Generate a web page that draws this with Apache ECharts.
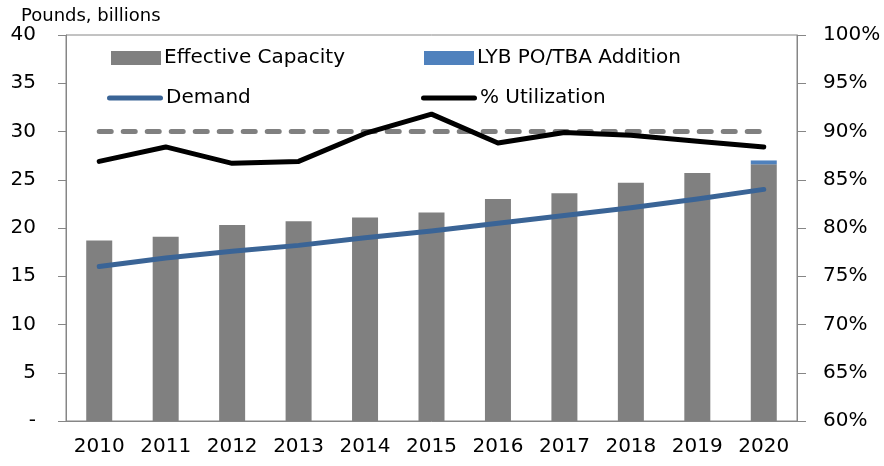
<!DOCTYPE html>
<html>
<head>
<meta charset="utf-8">
<script src="https://cdn.jsdelivr.net/npm/echarts@6/dist/echarts.min.js"></script>
<style>
  html, body { margin: 0; padding: 0; background: #fff; }
  #chart { width: 884px; height: 466px; }
</style>
</head>
<body>
<div id="chart"></div>
<script>
// data
var years = ['2010', '2011', '2012', '2013', '2014', '2015', '2016', '2017', '2018', '2019', '2020'];
var effectiveCapacity = [18.7, 19.1, 20.3, 20.7, 21.1, 21.6, 23.0, 23.6, 24.7, 25.7, 26.6];
var lybAddition = [0, 0, 0, 0, 0, 0, 0, 0, 0, 0, 0.4];
var demand = [16.0, 16.9, 17.6, 18.2, 19.0, 19.7, 20.5, 21.3, 22.1, 23.0, 24.0];
var utilization = [86.9, 88.4, 86.7, 86.9, 89.8, 91.8, 88.8, 89.9, 89.6, 89.0, 88.4];
var targetLine = [90, 90, 90, 90, 90, 90, 90, 90, 90, 90, 90];

var FONT = '"DejaVu Sans", sans-serif';
var AXIS_GRAY = '#868686';
var lineIcon = 'path://M2.5,0 H53.5 A2.5,2.5 0 0 1 53.5,5 H2.5 A2.5,2.5 0 0 1 2.5,0 Z';

var chart = echarts.init(document.getElementById('chart'));

function legendAt(name, left, top, icon, w, h) {
    return {
        data: [name],
        left: left,
        top: top,
        icon: icon,
        itemWidth: w,
        itemHeight: h,
        itemGap: 0,
        padding: 0,
        selectedMode: false,
        textStyle: { fontFamily: FONT, fontSize: 20, color: '#000', padding: [0, 0, 0, -2] }
    };
}

var option = {
    animation: false,
    backgroundColor: '#fff',
    title: {
        text: 'Pounds, billions',
        left: 21,
        top: 7,
        padding: 0,
        textStyle: { fontFamily: FONT, fontSize: 18, fontWeight: 'normal', color: '#000' }
    },
    legend: [
        legendAt('Effective Capacity', 111, 48, 'rect', 50, 14),
        legendAt('LYB PO/TBA Addition', 424, 48, 'rect', 50, 14),
        legendAt('Demand', 107, 88, lineIcon, 56, 5),
        legendAt('% Utilization', 421, 88, lineIcon, 56, 5)
    ],
    grid: {
        left: 66, right: 87, top: 35, bottom: 45,
        show: true, borderColor: AXIS_GRAY, borderWidth: 1
    },
    xAxis: {
        type: 'category',
        data: years,
        axisLine: { lineStyle: { color: AXIS_GRAY, width: 1 } },
        axisTick: { length: 8, lineStyle: { color: AXIS_GRAY } },
        axisLabel: { fontFamily: FONT, fontSize: 20, color: '#000', margin: 16 }
    },
    yAxis: [
        {
            type: 'value', min: 0, max: 40, interval: 5,
            axisLine: { show: true, lineStyle: { color: AXIS_GRAY } },
            axisTick: { show: true, length: 8, lineStyle: { color: AXIS_GRAY } },
            splitLine: { show: false },
            axisLabel: {
                fontFamily: FONT, fontSize: 20, color: '#000', margin: 30,
                formatter: function (v) { return v === 0 ? '-' : String(v); }
            }
        },
        {
            type: 'value', min: 60, max: 100, interval: 5, position: 'right',
            axisLine: { show: true, lineStyle: { color: AXIS_GRAY } },
            axisTick: { show: true, length: 9, lineStyle: { color: AXIS_GRAY } },
            splitLine: { show: false },
            axisLabel: { fontFamily: FONT, fontSize: 20, color: '#000', margin: 26, align: 'left', formatter: '{value}%' }
        }
    ],
    series: [
        {
            name: 'Effective Capacity', type: 'bar', stack: 'cap', barWidth: 26,
            data: effectiveCapacity, itemStyle: { color: '#808080' }, z: 2
        },
        {
            name: 'LYB PO/TBA Addition', type: 'bar', stack: 'cap', barWidth: 26,
            data: lybAddition, itemStyle: { color: '#4F81BD' }, z: 2
        },
        {
            name: 'Demand', type: 'line', data: demand, symbol: 'none',
            itemStyle: { color: '#3A6496' },
            lineStyle: { color: '#3A6496', width: 5, cap: 'round', join: 'round' }, z: 4
        },
        {
            name: '90% line', type: 'line', yAxisIndex: 1, data: targetLine, symbol: 'none',
            itemStyle: { color: '#808080' },
            lineStyle: { color: '#808080', width: 5, type: [12, 12], cap: 'round' }, z: 3
        },
        {
            name: '% Utilization', type: 'line', yAxisIndex: 1, data: utilization, symbol: 'none',
            itemStyle: { color: '#000' },
            lineStyle: { color: '#000', width: 5, cap: 'round', join: 'round' }, z: 5
        }
    ]
};

chart.setOption(option);
</script>
</body>
</html>
